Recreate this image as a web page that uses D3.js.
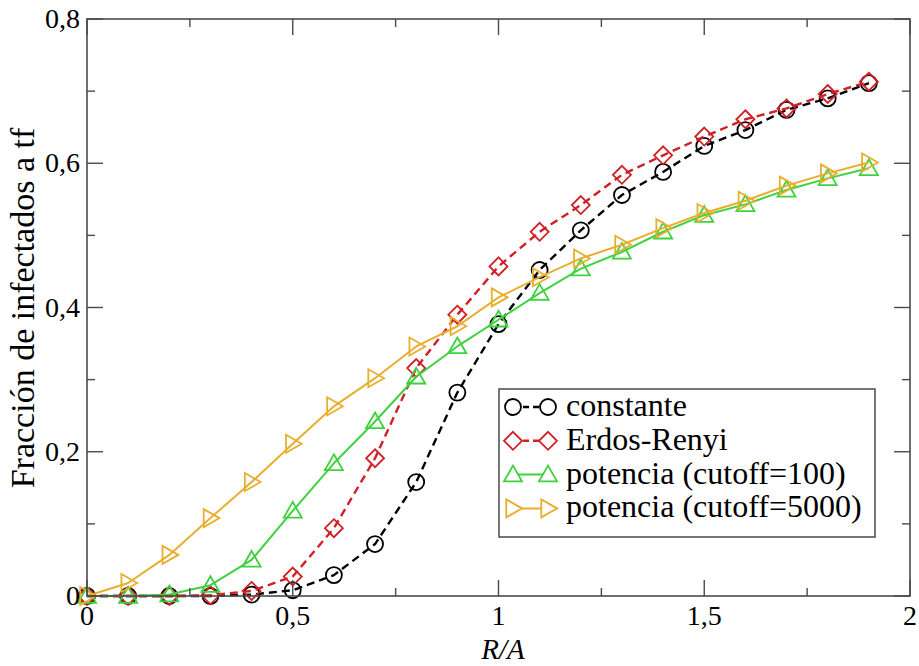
<!DOCTYPE html>
<html>
<head>
<meta charset="utf-8">
<script src="https://cdn.jsdelivr.net/npm/d3@7"></script>
<style>
  html, body { margin: 0; padding: 0; background: #fff; }
  svg { display: block; }
</style>
</head>
<body>
<svg id="chart" width="919" height="666"></svg>
<script>
// ---- data ----
const xValues = [0, 0.1, 0.2, 0.3, 0.4, 0.5, 0.6, 0.7, 0.8, 0.9, 1.0, 1.1, 1.2, 1.3, 1.4, 1.5, 1.6, 1.7, 1.8, 1.9];
const constante = [0, 0, 0, 0, 0.002, 0.008, 0.029, 0.072, 0.158, 0.282, 0.377, 0.452, 0.507, 0.556, 0.588, 0.624, 0.646, 0.674, 0.690, 0.711];
const erdosRenyi = [0, 0, 0, 0.001, 0.007, 0.027, 0.094, 0.191, 0.316, 0.390, 0.457, 0.505, 0.542, 0.584, 0.611, 0.637, 0.661, 0.676, 0.696, 0.713];
const potencia100 = [0, 0, 0.002, 0.015, 0.050, 0.118, 0.184, 0.242, 0.304, 0.346, 0.383, 0.420, 0.454, 0.477, 0.505, 0.528, 0.543, 0.563, 0.579, 0.593];
const potencia5000 = [0, 0.018, 0.057, 0.108, 0.158, 0.211, 0.263, 0.302, 0.346, 0.374, 0.414, 0.442, 0.468, 0.487, 0.510, 0.531, 0.548, 0.569, 0.586, 0.601];
const seriesNames = ["constante", "Erdos-Renyi", "potencia (cutoff=100)", "potencia (cutoff=5000)"];
const xTickLabels = ["0", "0,5", "1", "1,5", "2"];
const yTickLabels = ["0", "0,2", "0,4", "0,6", "0,8"];
const xTitle = "R/A";
const yTitle = "Fracción de infectados a tf";

// ---- layout ----
const FONT = "'Liberation Serif', 'Liberation Sans', Arial, sans-serif";
const svg = d3.select("#chart").style("font-family", FONT);
const L = 87, R = 910, T = 19, B = 596;
const x = d3.scaleLinear().domain([0, 2]).range([L, R]);
const y = d3.scaleLinear().domain([0, 0.8]).range([B, T]);

const styles = [
  { color: "#000000", dash: "8,5", width: 2.4, sym: "circle" },
  { color: "#d11f26", dash: "8,5", width: 2.4, sym: "diamond" },
  { color: "#3fd23f", dash: null, width: 2, sym: "up" },
  { color: "#e8ae2e", dash: null, width: 2, sym: "right" }
];
const allSeries = [constante, erdosRenyi, potencia100, potencia5000];

function symbolPath(type, cx, cy) {
  if (type === "circle") {
    const r = 8;
    return `M${cx + r},${cy} A${r},${r} 0 1,1 ${cx - r},${cy} A${r},${r} 0 1,1 ${cx + r},${cy} Z`;
  }
  if (type === "diamond") {
    const r = 9;
    return `M${cx},${cy - r} L${cx + r},${cy} L${cx},${cy + r} L${cx - r},${cy} Z`;
  }
  if (type === "up") {
    const r = 9;
    return `M${cx},${cy - r} L${cx + r},${cy + r * 0.75} L${cx - r},${cy + r * 0.75} Z`;
  }
  const r = 9;
  return `M${cx + r},${cy} L${cx - r * 0.75},${cy - r} L${cx - r * 0.75},${cy + r} Z`;
}

// ---- series ----
const plot = svg.append("g");
allSeries.forEach((vals, i) => {
  const st = styles[i];
  const pts = xValues.map((xv, j) => [xv, vals[j]]);
  const line = d3.line().x(d => x(d[0])).y(d => y(d[1]));
  plot.append("path")
    .attr("d", line(pts))
    .attr("fill", "none")
    .attr("stroke", st.color)
    .attr("stroke-width", st.width)
    .attr("stroke-dasharray", st.dash)
    .attr("stroke-linejoin", "round");
  plot.selectAll(null).data(pts).enter().append("path")
    .attr("d", d => symbolPath(st.sym, x(d[0]), y(d[1])))
    .attr("fill", "none")
    .attr("stroke", st.color)
    .attr("stroke-width", 1.8);
});

// ---- frame & ticks ----
const frameColor = "#4a4a4a";
svg.append("rect")
  .attr("x", L).attr("y", T).attr("width", R - L).attr("height", B - T)
  .attr("fill", "none").attr("stroke", frameColor).attr("stroke-width", 1.6);

const MAJ = 16, MIN = 8;
const xMajor = [0, 0.5, 1, 1.5, 2], xMinor = [0.25, 0.75, 1.25, 1.75];
const yMajor = [0, 0.2, 0.4, 0.6, 0.8], yMinor = [0.1, 0.3, 0.5, 0.7];
const tk = svg.append("g").attr("stroke", frameColor).attr("stroke-width", 1.4);
xMajor.concat(xMinor).forEach(v => {
  const len = xMajor.includes(v) ? MAJ : MIN;
  tk.append("line").attr("x1", x(v)).attr("x2", x(v)).attr("y1", B).attr("y2", B - len);
  tk.append("line").attr("x1", x(v)).attr("x2", x(v)).attr("y1", T).attr("y2", T + len);
});
yMajor.concat(yMinor).forEach(v => {
  const len = yMajor.includes(v) ? MAJ : MIN;
  tk.append("line").attr("y1", y(v)).attr("y2", y(v)).attr("x1", L).attr("x2", L + len);
  tk.append("line").attr("y1", y(v)).attr("y2", y(v)).attr("x1", R).attr("x2", R - len);
});

// tick labels
xMajor.forEach((v, i) => {
  svg.append("text").attr("x", x(v)).attr("y", 625)
    .attr("text-anchor", "middle").attr("font-size", 28).text(xTickLabels[i]);
});
yMajor.forEach((v, i) => {
  svg.append("text").attr("x", 80).attr("y", y(v)).attr("dy", "0.33em")
    .attr("text-anchor", "end").attr("font-size", 28).text(yTickLabels[i]);
});

// axis titles
svg.append("text").attr("x", 503).attr("y", 659)
  .attr("text-anchor", "middle").attr("font-size", 29).attr("font-style", "italic").text(xTitle);
svg.append("text").attr("transform", `translate(34,308) rotate(-90)`)
  .attr("text-anchor", "middle").attr("font-size", 34).text(yTitle);

// ---- legend ----
const lg = svg.append("g");
lg.append("rect").attr("x", 499).attr("y", 389).attr("width", 376).attr("height", 148)
  .attr("fill", "#fff").attr("stroke", frameColor).attr("stroke-width", 1.5);
seriesNames.forEach((name, i) => {
  const st = styles[i];
  const base = 416 + i * 33.8;
  const cy = base - 9;
  lg.append("line").attr("x1", 513).attr("x2", 548).attr("y1", cy).attr("y2", cy)
    .attr("stroke", st.color).attr("stroke-width", st.width)
    .attr("stroke-dasharray", st.dash ? "6,4" : null);
  [513, 548].forEach(cx => {
    lg.append("path").attr("d", symbolPath(st.sym, cx, cy))
      .attr("fill", "#fff").attr("stroke", st.color).attr("stroke-width", 1.8);
  });
  lg.append("text").attr("x", 566).attr("y", base).attr("font-size", 32).text(name);
});
</script>
</body>
</html>
